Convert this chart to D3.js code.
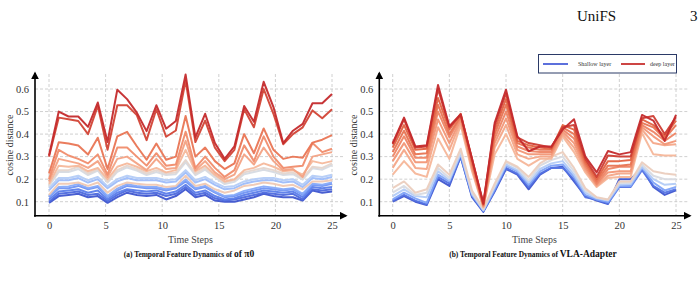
<!DOCTYPE html>
<html lang="en">
<head>
<meta charset="UTF-8">
<title>temporal feature dynamics</title>
<script src="https://cdn.jsdelivr.net/npm/d3@7"></script>
<style>
	body { margin: 0; background: #fff; }
	text { font-family: "Liberation Serif", "Times New Roman", serif; }
</style>
</head>
<body>
<script>
// ---- data ----
const xTicks = [0, 5, 10, 15, 20, 25];
const yTicks = [0.1, 0.2, 0.3, 0.4, 0.5, 0.6];

// pi0: 18 layers, 30 sampled steps between 0 and 25
const pi0Layers = [0, 1, 2, 3, 4, 5, 6, 8, 9, 10, 11, 12, 13, 14, 16, 17];
const pi0Values = [
	[0.095,0.125,0.13,0.135,0.12,0.125,0.095,0.12,0.14,0.13,0.125,0.13,0.11,0.125,0.155,0.12,0.13,0.105,0.10,0.10,0.11,0.12,0.135,0.125,0.12,0.12,0.105,0.15,0.14,0.145],
	[0.10,0.135,0.14,0.145,0.13,0.135,0.103,0.13,0.15,0.14,0.135,0.14,0.125,0.135,0.165,0.13,0.14,0.115,0.105,0.11,0.12,0.13,0.14,0.135,0.13,0.135,0.11,0.155,0.15,0.155],
	[0.11,0.145,0.15,0.155,0.14,0.15,0.11,0.14,0.155,0.15,0.145,0.15,0.135,0.145,0.175,0.14,0.15,0.125,0.11,0.115,0.13,0.14,0.15,0.145,0.14,0.145,0.12,0.165,0.16,0.165],
	[0.12,0.16,0.16,0.17,0.155,0.165,0.12,0.15,0.17,0.165,0.16,0.16,0.15,0.16,0.19,0.155,0.165,0.14,0.12,0.125,0.14,0.15,0.16,0.155,0.15,0.155,0.13,0.175,0.17,0.18],
	[0.125,0.165,0.168,0.178,0.16,0.17,0.125,0.158,0.178,0.17,0.165,0.165,0.155,0.165,0.198,0.16,0.17,0.145,0.125,0.13,0.148,0.158,0.168,0.162,0.155,0.16,0.135,0.18,0.175,0.185],
	[0.15,0.195,0.195,0.205,0.185,0.20,0.16,0.19,0.205,0.195,0.195,0.195,0.185,0.19,0.23,0.185,0.20,0.175,0.155,0.16,0.18,0.19,0.195,0.195,0.185,0.19,0.165,0.205,0.20,0.21],
	[0.16,0.205,0.205,0.215,0.195,0.21,0.168,0.20,0.215,0.205,0.205,0.205,0.195,0.20,0.24,0.195,0.21,0.185,0.165,0.17,0.19,0.20,0.205,0.205,0.195,0.20,0.175,0.215,0.21,0.22],
	[0.17,0.232,0.232,0.245,0.218,0.238,0.185,0.232,0.252,0.238,0.218,0.232,0.218,0.222,0.275,0.218,0.242,0.208,0.178,0.188,0.222,0.232,0.242,0.232,0.218,0.222,0.198,0.248,0.242,0.262],
	[0.175,0.24,0.24,0.255,0.225,0.245,0.19,0.24,0.26,0.245,0.225,0.24,0.225,0.23,0.285,0.225,0.25,0.215,0.185,0.195,0.23,0.24,0.25,0.24,0.225,0.23,0.205,0.255,0.25,0.27],
	[0.13,0.18,0.18,0.185,0.17,0.185,0.14,0.17,0.185,0.18,0.175,0.175,0.165,0.17,0.215,0.17,0.18,0.155,0.14,0.15,0.17,0.175,0.185,0.18,0.17,0.175,0.155,0.19,0.19,0.195],
	[0.18,0.26,0.255,0.26,0.235,0.25,0.20,0.255,0.27,0.255,0.235,0.25,0.23,0.24,0.33,0.235,0.26,0.22,0.19,0.20,0.24,0.25,0.27,0.255,0.235,0.24,0.22,0.28,0.27,0.28],
	[0.19,0.29,0.28,0.27,0.25,0.28,0.21,0.29,0.30,0.27,0.24,0.29,0.245,0.25,0.37,0.24,0.28,0.23,0.20,0.22,0.31,0.265,0.34,0.28,0.24,0.245,0.21,0.30,0.31,0.32],
	[0.20,0.33,0.305,0.29,0.27,0.31,0.22,0.34,0.34,0.30,0.26,0.315,0.26,0.265,0.41,0.25,0.30,0.25,0.21,0.24,0.35,0.28,0.39,0.30,0.25,0.255,0.26,0.36,0.32,0.335],
	[0.225,0.364,0.358,0.349,0.309,0.384,0.245,0.39,0.41,0.346,0.286,0.358,0.286,0.30,0.48,0.30,0.34,0.28,0.245,0.27,0.40,0.315,0.425,0.33,0.29,0.30,0.295,0.362,0.375,0.395],
	[0.30,0.473,0.466,0.458,0.40,0.525,0.33,0.528,0.528,0.484,0.373,0.51,0.388,0.416,0.637,0.365,0.46,0.34,0.28,0.33,0.51,0.43,0.60,0.49,0.355,0.40,0.43,0.505,0.47,0.51],
	[0.305,0.50,0.478,0.478,0.432,0.54,0.365,0.597,0.555,0.495,0.413,0.528,0.424,0.458,0.664,0.385,0.49,0.36,0.29,0.345,0.525,0.455,0.632,0.52,0.36,0.415,0.445,0.537,0.537,0.578]
];
const pi0LayerCount = 18;

// VLA-Adapter: 24 layers, one value per step 0..25
const vlaLayers = [0, 2, 5, 8, 11, 13, 15, 16, 17, 18, 19, 20, 22, 23];
const vlaValues = [
	[0.10,0.125,0.10,0.085,0.20,0.17,0.30,0.12,0.055,0.145,0.245,0.22,0.155,0.22,0.25,0.255,0.19,0.125,0.105,0.09,0.20,0.20,0.25,0.165,0.13,0.15],
	[0.105,0.13,0.105,0.088,0.21,0.18,0.30,0.125,0.057,0.15,0.25,0.225,0.165,0.225,0.25,0.25,0.20,0.12,0.11,0.092,0.165,0.165,0.24,0.17,0.14,0.155],
	[0.11,0.14,0.115,0.095,0.22,0.19,0.31,0.13,0.06,0.155,0.26,0.235,0.175,0.235,0.26,0.265,0.21,0.13,0.11,0.098,0.17,0.17,0.25,0.185,0.15,0.165],
	[0.125,0.155,0.125,0.12,0.235,0.195,0.315,0.135,0.062,0.165,0.265,0.24,0.185,0.245,0.27,0.28,0.22,0.14,0.115,0.105,0.175,0.178,0.255,0.20,0.175,0.18],
	[0.14,0.17,0.13,0.14,0.25,0.205,0.325,0.14,0.065,0.17,0.275,0.25,0.195,0.26,0.285,0.30,0.235,0.15,0.118,0.108,0.183,0.185,0.265,0.215,0.20,0.20],
	[0.16,0.19,0.14,0.155,0.265,0.22,0.335,0.15,0.07,0.18,0.28,0.255,0.21,0.27,0.30,0.32,0.25,0.16,0.12,0.11,0.19,0.19,0.275,0.235,0.225,0.22],
	[0.22,0.28,0.225,0.21,0.38,0.29,0.44,0.235,0.075,0.31,0.40,0.29,0.26,0.29,0.29,0.39,0.32,0.23,0.165,0.205,0.21,0.21,0.405,0.31,0.305,0.305],
	[0.25,0.33,0.25,0.245,0.43,0.33,0.455,0.245,0.078,0.34,0.44,0.31,0.29,0.30,0.30,0.40,0.34,0.24,0.17,0.215,0.225,0.225,0.42,0.36,0.35,0.355],
	[0.28,0.36,0.275,0.275,0.465,0.36,0.465,0.255,0.08,0.36,0.47,0.33,0.31,0.31,0.31,0.41,0.36,0.25,0.175,0.23,0.235,0.235,0.43,0.39,0.355,0.37],
	[0.30,0.39,0.295,0.295,0.50,0.385,0.475,0.265,0.083,0.38,0.50,0.345,0.325,0.32,0.32,0.42,0.38,0.26,0.18,0.245,0.255,0.255,0.44,0.41,0.37,0.405],
	[0.32,0.415,0.31,0.315,0.53,0.40,0.48,0.275,0.085,0.40,0.53,0.36,0.34,0.33,0.33,0.43,0.40,0.27,0.19,0.26,0.26,0.265,0.45,0.43,0.38,0.44],
	[0.34,0.44,0.33,0.335,0.56,0.42,0.49,0.285,0.088,0.42,0.555,0.37,0.35,0.34,0.335,0.44,0.42,0.28,0.20,0.28,0.28,0.285,0.465,0.44,0.39,0.46],
	[0.355,0.465,0.34,0.345,0.60,0.43,0.485,0.29,0.09,0.44,0.58,0.385,0.36,0.35,0.34,0.43,0.44,0.29,0.21,0.305,0.30,0.30,0.47,0.48,0.40,0.475],
	[0.36,0.473,0.345,0.35,0.618,0.435,0.488,0.29,0.093,0.45,0.597,0.39,0.324,0.345,0.345,0.42,0.466,0.30,0.23,0.325,0.31,0.32,0.485,0.46,0.37,0.485]
];
const vlaLayerCount = 24;

// coolwarm-like ramp, shallow (blue) -> deep (red)
const coolwarmStops = ['#3e55cf', '#5d80ec', '#8cb0fc', '#bcd2f6', '#dedcdb', '#f6c0a4', '#f29272', '#e2603f', '#c42a2c'];
const coolwarm = d3.scaleLinear()
	.domain(coolwarmStops.map((d, i) => i / (coolwarmStops.length - 1)))
	.range(coolwarmStops)
	.interpolate(d3.interpolateRgb);

const svg = d3.select('body').append('svg')
	.attr('width', 700)
	.attr('height', 284);

let defs = svg.append('defs');
defs.append('marker')
	.attr('id', 'arrow')
	.attr('viewBox', '0 0 10 10')
	.attr('refX', 8).attr('refY', 5)
	.attr('markerWidth', 5).attr('markerHeight', 5)
	.attr('orient', 'auto')
	.append('path')
	.attr('d', 'M0,0 L10,5 L0,10 z')
	.attr('fill', '#000');

// page header
svg.append('text').attr('x', 577).attr('y', 21).attr('font-size', 15).attr('fill', '#111').text('UniFS');
svg.append('text').attr('x', 690).attr('y', 21).attr('font-size', 15).attr('fill', '#111').text('3');

function panel(opt) {
	let x = d3.scaleLinear().domain([0, 25]).range(opt.xRange);
	let y = d3.scaleLinear().domain([0.1, 0.6]).range([201.7, 89]);
	let n = opt.values[0].length;
	let xi = d3.scaleLinear().domain([0, n - 1]).range(x.range());
	let axisX = opt.axisX, axisY = 215.7;

	let g = svg.append('g');

	// grid
	g.selectAll('.vg').data(xTicks).enter().append('line')
		.attr('x1', d => x(d)).attr('x2', d => x(d))
		.attr('y1', 74).attr('y2', axisY)
		.attr('stroke', '#c4c4c4').attr('stroke-width', 0.8)
		.attr('stroke-dasharray', '3,2');
	g.selectAll('.hg').data(yTicks).enter().append('line')
		.attr('x1', axisX).attr('x2', opt.xEnd - 2)
		.attr('y1', d => y(d)).attr('y2', d => y(d))
		.attr('stroke', '#c4c4c4').attr('stroke-width', 0.8)
		.attr('stroke-dasharray', '3,2');

	// lines
	let line = d3.line()
		.x((d, i) => xi(i))
		.y(d => y(d));
	g.selectAll('.series').data(opt.values).enter().append('path')
		.attr('d', d => line(d))
		.attr('fill', 'none')
		.attr('stroke', (d, i) => coolwarm(opt.layers[i] / (opt.layerCount - 1)))
		.attr('stroke-width', 2)
		.attr('stroke-opacity', 0.95)
		.attr('stroke-linejoin', 'round');

	// axes with arrows
	g.append('line')
		.attr('x1', axisX - 1).attr('x2', opt.xEnd)
		.attr('y1', axisY).attr('y2', axisY)
		.attr('stroke', '#000').attr('stroke-width', 1.6)
		.attr('marker-end', 'url(#arrow)');
	g.append('line')
		.attr('x1', axisX).attr('x2', axisX)
		.attr('y1', axisY + 1).attr('y2', 73)
		.attr('stroke', '#000').attr('stroke-width', 1.6)
		.attr('marker-end', 'url(#arrow)');

	let xAxis = d3.axisBottom(x).tickValues(xTicks).tickSize(0).tickPadding(6);
	let gx = g.append('g').attr('transform', `translate(0,${axisY})`).call(xAxis);
	let yAxis = d3.axisLeft(y).tickValues(yTicks).tickSize(0).tickPadding(6).tickFormat(d3.format('.1f'));
	let gy = g.append('g').attr('transform', `translate(${axisX},0)`).call(yAxis);
	[gx, gy].forEach(a => {
		a.select('.domain').remove();
		a.selectAll('text')
			.attr('font-family', '"Liberation Serif", serif')
			.attr('font-size', 10.5)
			.attr('fill', '#333');
	});

	g.append('text')
		.attr('transform', `translate(${axisX - 22},145) rotate(-90)`)
		.attr('text-anchor', 'middle')
		.attr('font-size', 10)
		.attr('fill', '#333')
		.text('cosine distance');
	g.append('text')
		.attr('x', (x(0) + x(25)) / 2).attr('y', 243)
		.attr('text-anchor', 'middle')
		.attr('font-size', 10)
		.attr('fill', '#444')
		.text('Time Steps');

	let cap = g.append('text')
		.attr('x', opt.capX).attr('y', 257)
		.attr('text-anchor', 'middle')
		.attr('font-weight', 'bold')
		.attr('fill', '#111');
	cap.append('tspan').attr('font-size', 7.4).text(opt.capSmall);
	cap.append('tspan').attr('font-size', 9.5).text(opt.capBig);
}

panel({ xRange: [49, 332], axisX: 35, xEnd: 346, layers: pi0Layers, layerCount: pi0LayerCount, values: pi0Values,
	capX: 189, capSmall: '(a) Temporal Feature Dynamics of ', capBig: 'of \u03c00' });
panel({ xRange: [392.7, 676], axisX: 379.3, xEnd: 690, layers: vlaLayers, layerCount: vlaLayerCount, values: vlaValues,
	capX: 533, capSmall: '(b) Temporal Feature Dynamics of ', capBig: 'VLA-Adapter' });

// legend
let lg = svg.append('g');
lg.append('rect').attr('x', 538.5).attr('y', 54.5).attr('width', 138).attr('height', 18.5)
	.attr('fill', '#fff').attr('stroke', '#2b3a67').attr('stroke-width', 1);
lg.append('line').attr('x1', 543).attr('x2', 568).attr('y1', 64).attr('y2', 64)
	.attr('stroke', '#4a60d8').attr('stroke-width', 1.8);
lg.append('text').attr('x', 578).attr('y', 66).attr('font-family', '"Liberation Sans", Arial, sans-serif')
	.attr('font-size', 6).attr('fill', '#333').text('Shallow layer');
lg.append('line').attr('x1', 621).attr('x2', 645).attr('y1', 64).attr('y2', 64)
	.attr('stroke', '#c8302f').attr('stroke-width', 1.8);
lg.append('text').attr('x', 650).attr('y', 66).attr('font-family', '"Liberation Sans", Arial, sans-serif')
	.attr('font-size', 6).attr('fill', '#333').text('deep layer');
</script>
</body>
</html>
